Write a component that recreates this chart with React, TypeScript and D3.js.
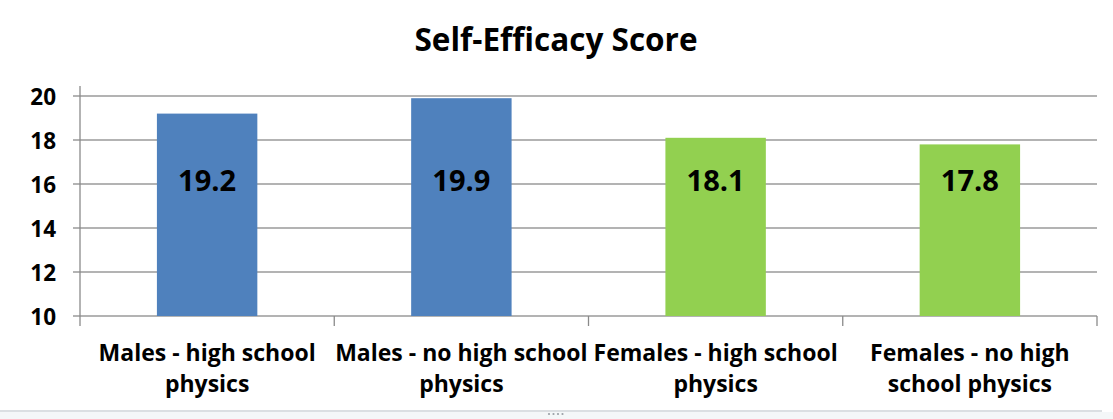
import * as d3 from 'd3';
import { useEffect, useRef } from 'react';

const categories = ['Males - high school physics', 'Males - no high school physics', 'Females - high school physics', 'Females - no high school physics'];
const categoryLines = [
    ['Males - high school', 'physics'],
    ['Males - no high school', 'physics'],
    ['Females - high school', 'physics'],
    ['Females - no high', 'school physics'],
];
const scores = [19.2, 19.9, 18.1, 17.8];
const barColors = ['#4F81BD', '#4F81BD', '#92D050', '#92D050'];
const yTicks = [10, 12, 14, 16, 18, 20];

const FONT = '"Open Sans", Lato, sans-serif';

export default function App() {
    const svgRef = useRef<SVGSVGElement>(null);

    useEffect(() => {
        if (!svgRef.current) return;
        const width = 1113;
        const height = 419;
        const margin = { top: 96, right: 16, bottom: 103, left: 80 };

        const svg = d3.select(svgRef.current).attr('width', width).attr('height', height).style('background', '#fff');
        svg.selectAll('*').remove();

        const x = d3
            .scaleBand<string>()
            .domain(categories)
            .range([margin.left, width - margin.right])
            .padding(0);

        const y = d3
            .scaleLinear()
            .domain([10, 20])
            .range([height - margin.bottom, margin.top]);

        const barW = x.bandwidth() * 0.395;

        // title
        svg.append('text')
            .attr('x', 556)
            .attr('y', 38)
            .attr('text-anchor', 'middle')
            .attr('dominant-baseline', 'central')
            .attr('font-family', FONT)
            .attr('font-weight', 700)
            .attr('font-size', '31.5px')
            .attr('fill', '#000')
            .text('Self-Efficacy Score');

        // gridlines
        svg.append('g')
            .selectAll('line')
            .data(yTicks)
            .join('line')
            .attr('x1', margin.left - 7)
            .attr('x2', width - margin.right)
            .attr('y1', (d) => y(d))
            .attr('y2', (d) => y(d))
            .attr('stroke', '#9a9a9a')
            .attr('stroke-width', 1.3);

        // y axis line
        svg.append('line')
            .attr('x1', margin.left)
            .attr('x2', margin.left)
            .attr('y1', y(20) - 10)
            .attr('y2', y(10) + 10)
            .attr('stroke', '#8a8a8a')
            .attr('stroke-width', 1.3);

        // category ticks
        const bounds = [...categories.map((c) => x(c)!), width - margin.right];
        svg.append('g')
            .selectAll('line')
            .data(bounds.slice(1))
            .join('line')
            .attr('x1', (d) => d)
            .attr('x2', (d) => d)
            .attr('y1', y(10))
            .attr('y2', y(10) + 10)
            .attr('stroke', '#8a8a8a')
            .attr('stroke-width', 1.3);

        // y tick labels
        svg.append('g')
            .selectAll('text')
            .data(yTicks)
            .join('text')
            .attr('x', 56)
            .attr('y', (d) => y(d))
            .attr('text-anchor', 'end')
            .attr('dominant-baseline', 'central')
            .attr('font-family', FONT)
            .attr('font-weight', 700)
            .attr('font-size', '22.5px')
            .attr('fill', '#000')
            .text((d) => d);

        // bars
        svg.append('g')
            .selectAll('rect')
            .data(scores)
            .join('rect')
            .attr('x', (_, i) => x(categories[i])! + (x.bandwidth() - barW) / 2)
            .attr('width', barW)
            .attr('y', (d) => y(d))
            .attr('height', (d) => y(10) - y(d))
            .attr('fill', (_, i) => barColors[i]);

        // value labels
        svg.append('g')
            .selectAll('text')
            .data(scores)
            .join('text')
            .attr('x', (_, i) => x(categories[i])! + x.bandwidth() / 2)
            .attr('y', y(16.2))
            .attr('text-anchor', 'middle')
            .attr('dominant-baseline', 'central')
            .attr('font-family', FONT)
            .attr('font-weight', 700)
            .attr('font-size', '29px')
            .attr('fill', '#000')
            .text((d) => d.toFixed(1));

        // category labels
        const cat = svg.append('g')
            .selectAll('text')
            .data(categoryLines)
            .join('text')
            .attr('x', (_, i) => x(categories[i])! + x.bandwidth() / 2)
            .attr('text-anchor', 'middle')
            .attr('font-family', FONT)
            .attr('font-weight', 700)
            .attr('font-size', '23px')
            .attr('fill', '#000');
        cat.selectAll('tspan')
            .data((d) => d)
            .join('tspan')
            .attr('x', function () {
                return (this.parentNode as SVGTextElement).getAttribute('x');
            })
            .attr('y', (_, j) => 352 + j * 31)
            .attr('dominant-baseline', 'central')
            .text((d) => d);

        // spreadsheet strip below the chart
        svg.append('line').attr('x1', 0).attr('x2', 1102).attr('y1', 411).attr('y2', 411).attr('stroke', '#cfd4d8').attr('stroke-width', 1.5);
        svg.append('rect').attr('x', 0).attr('y', 412).attr('width', width).attr('height', 7).attr('fill', '#f4f7f8');
        svg.append('g')
            .selectAll('circle')
            .data([0, 1, 2, 3])
            .join('circle')
            .attr('cx', (d) => 549 + d * 4.5)
            .attr('cy', 414)
            .attr('r', 1.1)
            .attr('fill', '#9aa0a6');
    }, []);

    return <svg ref={svgRef} style={{ position: 'fixed', top: 0, left: 0, display: 'block' }} />;
}
